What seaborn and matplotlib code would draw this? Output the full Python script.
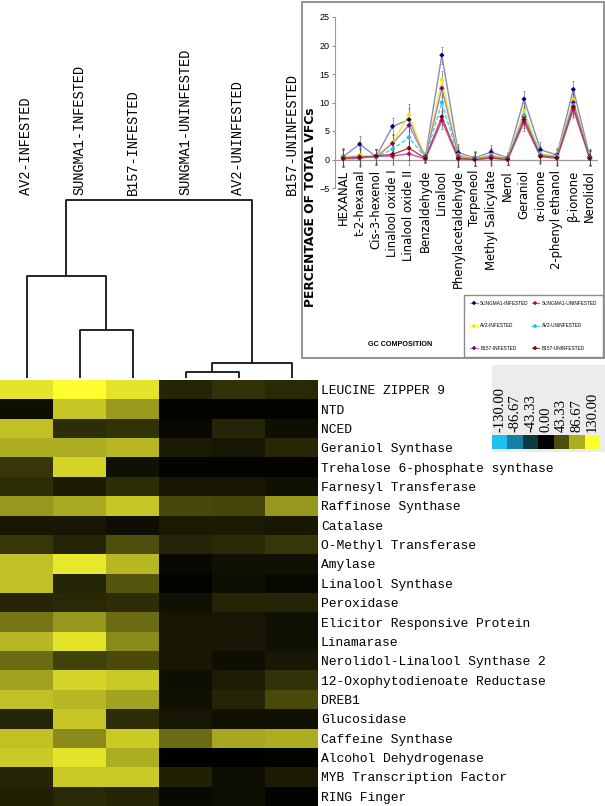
import numpy as np
import pandas as pd
import matplotlib
matplotlib.use('Agg')
import matplotlib.pyplot as plt
import seaborn as sns
from matplotlib.colors import LinearSegmentedColormap
from matplotlib.patches import Rectangle
from matplotlib.lines import Line2D
from matplotlib import font_manager

# ---- heatmap data (expression, -130..130) ----
samples = ['AV2-INFESTED', 'SUNGMA1-INFESTED', 'B157-INFESTED',
           'SUNGMA1-UNINFESTED', 'AV2-UNINFESTED', 'B157-UNINFESTED']
genes = ['LEUCINE ZIPPER 9', 'NTD', 'NCED', 'Geraniol Synthase',
         'Trehalose 6-phosphate synthase', 'Farnesyl Transferase',
         'Raffinose Synthase', 'Catalase', 'O-Methyl Transferase', 'Amylase',
         'Linalool Synthase', 'Peroxidase', 'Elicitor Responsive Protein',
         'Linamarase', 'Nerolidol-Linalool Synthase 2',
         '12-Oxophytodienoate Reductase', 'DREB1', 'Glucosidase',
         'Caffeine Synthase', 'Alcohol Dehydrogenase', 'MYB Transcription Factor',
         'RING Finger']
av2_inf = [115, 8, 97, 87, 30, 25, 77, 13, 30, 97, 97, 21, 61, 92, 56, 82, 97, 20, 97, 102, 20, 18]
sungma1_inf = [130, 100, 25, 87, 107, 15, 85, 13, 20, 117, 20, 23, 77, 115, 36, 107, 92, 100, 71, 115, 102, 23]
b157_inf = [115, 78, 28, 92, 10, 25, 100, 8, 43, 92, 46, 25, 56, 71, 41, 102, 82, 25, 102, 87, 102, 20]
sungma1_un = [20, 2, 5, 15, 2, 13, 40, 15, 20, 5, 2, 10, 13, 13, 13, 8, 10, 13, 56, 0, 18, 5]
av2_un = [28, 2, 20, 13, 2, 13, 38, 15, 23, 10, 8, 20, 13, 13, 8, 16, 20, 10, 84, 0, 8, 8]
b157_un = [23, 2, 8, 22, 2, 10, 77, 13, 30, 10, 5, 20, 10, 10, 13, 28, 41, 10, 87, 2, 15, 2]

# dendrogram: (left node, right node, height); nodes 0-5 are leaves, 6+ merges
links = [(1, 2, 48), (0, 6, 102), (3, 4, 6), (8, 5, 15), (7, 9, 178)]

scale_ticks = [-130.0, -86.67, -43.33, 0.0, 43.33, 86.67, 130.0]

# ---- inset: % of total VFCs ----
compounds = ['HEXANAL', 't-2-hexanal', 'Cis-3-hexenol', 'Linalool oxide I',
             'Linalool oxide II', 'Benzaldehyde', 'Linalool', 'Phenylacetaldehyde',
             'Terpeneol', 'Methyl Salicylate', 'Nerol', 'Geraniol', 'α-ionone',
             '2-phenyl ethanol', 'β-ionone', 'Nerolidol']
sungma1_inf_vfc = [0.5, 2.7, 0.5, 5.8, 7.0, 0.5, 18.3, 1.2, 0.3, 1.3, 0.3, 10.6, 1.7, 0.8, 12.3, 0.5]
av2_inf_vfc = [0.4, 0.8, 0.5, 3.0, 7.8, 0.3, 14.0, 0.8, 0.2, 0.8, 0.2, 8.5, 1.0, 0.6, 10.5, 0.3]
b157_inf_vfc = [0.3, 0.5, 0.4, 2.8, 6.0, 0.3, 12.5, 0.6, 0.1, 0.6, 0.1, 7.5, 0.8, 0.4, 10.0, 0.3]
sungma1_un_vfc = [0.1, 0.2, 0.6, 0.6, 1.0, 0.1, 6.8, 0.1, 0.0, 0.2, 0.0, 6.5, 0.5, 0.2, 8.8, 0.2]
av2_un_vfc = [0.3, 0.5, 0.4, 1.8, 3.9, 0.3, 10.0, 0.4, 0.1, 0.5, 0.1, 7.8, 0.9, 0.5, 9.5, 0.3]
b157_un_vfc = [0.2, 0.4, 0.6, 0.9, 2.0, 0.2, 7.5, 0.2, 0.0, 0.3, 0.0, 7.0, 0.6, 0.3, 9.2, 0.2]
vfc_err = [1.5, 1.5, 1.3, 1.5, 2.0, 0.8, 1.5, 1.5, 1.2, 1.3, 1.0, 1.5, 1.3, 1.3, 1.5, 1.3]

series_names = ['SUNGMA1-INFESTED', 'AV2-INFESTED', 'B157-INFESTED',
                'SUNGMA1-UNINFESTED', 'AV2-UNINFESTED', 'B157-UNINFESTED']
series_vals = [sungma1_inf_vfc, av2_inf_vfc, b157_inf_vfc,
               sungma1_un_vfc, av2_un_vfc, b157_un_vfc]
line_cols = ['#8a8ab8', '#f2f22a', '#a880c8', '#d84aa8', '#3fd8e0', '#b04848']
mark_cols = ['#000080', '#e8e800', '#800080', '#c0007a', '#20c0d0', '#800000']

names = {f.name for f in font_manager.fontManager.ttflist}
narrow = 'Liberation Sans Narrow' if 'Liberation Sans Narrow' in names else 'Liberation Sans'
mono = 'Liberation Mono'

W, H = 605, 806


def box(x0, y0, x1, y1):
    # pixel box (top-left origin) -> figure fraction rect
    return [x0 / W, 1 - y1 / H, (x1 - x0) / W, (y1 - y0) / H]


fig = plt.figure(figsize=(W / 100, H / 100), dpi=100)

cmap = LinearSegmentedColormap.from_list('bluyel', [
    (0.0, '#1ec0ee'), (1 / 6, '#167ea2'), (2 / 6, '#0b3a44'), (0.5, '#000000'),
    (4 / 6, '#4e4e0c'), (5 / 6, '#acac22'), (1.0, '#ffff30')])

# background boxes
fig.patches.append(Rectangle((302 / W, 1 - 358 / H), 302 / W, 356 / H,
                             transform=fig.transFigure, facecolor='white',
                             edgecolor='#8a8a8a', lw=1.3, zorder=-2))
fig.patches.append(Rectangle((492 / W, 1 - 452 / H), 113 / W, 87 / H,
                             transform=fig.transFigure, facecolor='#ececec',
                             edgecolor='none', zorder=-2))

# heatmap
heat = pd.DataFrame(dict(zip(samples, [av2_inf, sungma1_inf, b157_inf,
                                        sungma1_un, av2_un, b157_un])), index=genes)
ax_h = fig.add_axes(box(0, 380, 318, 806))
sns.heatmap(heat, ax=ax_h, cmap=cmap, vmin=-130, vmax=130, cbar=False,
            xticklabels=False, yticklabels=True)
ax_h.yaxis.tick_right()
ax_h.tick_params(axis='y', length=0, pad=2)
plt.setp(ax_h.get_yticklabels(), rotation=0, fontfamily=mono, fontsize=9.4, ha='left')
ax_h.set_xlabel('')
ax_h.set_ylabel('')

# dendrogram
ax_d = fig.add_axes(box(0, 0, 318, 380))
ax_d.patch.set_visible(False)
ax_d.set_xlim(0, 6)
ax_d.set_ylim(-2, 378)
ax_d.axis('off')
node_x = [i + 0.5 for i in range(len(samples))]
node_h = [0] * len(samples)
for a, b, h in links:
    ax_d.plot([node_x[a], node_x[a], node_x[b], node_x[b]],
              [node_h[a], h, h, node_h[b]], color='black', lw=1.2,
              solid_capstyle='butt')
    node_x.append((node_x[a] + node_x[b]) / 2)
    node_h.append(h)
for i, s in enumerate(samples):
    ax_d.text(i + 0.5, 183, s, rotation=90, ha='center', va='bottom',
              fontfamily=mono, fontsize=9.8)

# colour key
ax_c = fig.add_axes(box(492, 435, 600, 449))
sns.heatmap(pd.DataFrame([scale_ticks]), ax=ax_c, cmap=cmap, vmin=-130, vmax=130,
            cbar=False, xticklabels=False, yticklabels=False)
for i, v in enumerate(scale_ticks):
    ax_c.text(i + 0.5, -0.2, f'{v:.2f}', rotation=90, ha='center', va='bottom',
              fontfamily='Liberation Serif', fontsize=10.5)

# inset line chart
vfc = pd.DataFrame({
    'pos': np.tile(np.arange(len(compounds)), len(series_names)),
    'pct': np.concatenate(series_vals),
    'series': np.repeat(series_names, len(compounds)),
})
ax_i = fig.add_axes(box(335, 17, 598, 188))
ax_i.patch.set_visible(False)
ax_i.axhline(0, color='#9a9a9a', lw=0.9, zorder=1)
for vals in series_vals:
    ax_i.errorbar(range(len(compounds)), vals, yerr=vfc_err, fmt='none',
                  ecolor='#555555', elinewidth=0.4, capsize=1.0, capthick=0.4,
                  ls=':', zorder=2)
sns.lineplot(data=vfc, x='pos', y='pct', hue='series', hue_order=series_names,
             palette=dict(zip(series_names, line_cols)), style='series',
             dashes={n: ((3, 1.5) if n == 'AV2-UNINFESTED' else '') for n in series_names},
             lw=1.0, legend=False, ax=ax_i, zorder=3)
sns.scatterplot(data=vfc, x='pos', y='pct', hue='series', hue_order=series_names,
                palette=dict(zip(series_names, mark_cols)), marker='D', s=7,
                linewidth=0, legend=False, ax=ax_i, zorder=4)
ax_i.set_xlim(-0.5, 15.5)
ax_i.set_ylim(-5, 25)
ax_i.set_yticks(range(-5, 30, 5))
ax_i.set_xticks([])
ax_i.set_xlabel('')
ax_i.set_ylabel('')
for side in ['top', 'right', 'bottom']:
    ax_i.spines[side].set_visible(False)
ax_i.spines['left'].set_color('#9a9a9a')
ax_i.tick_params(axis='y', length=2, width=0.6, color='#777777', pad=2,
                 labelsize=6.5)
plt.setp(ax_i.get_yticklabels(), fontfamily=narrow)
for i, c in enumerate(compounds):
    ax_i.text(i, -1.8, c, rotation=90, ha='center', va='top', fontsize=8.4,
              fontfamily='DejaVu Sans')

handles = [Line2D([], [], color=lc, marker='+', markeredgecolor=mc, ms=3.5,
                  mew=1.1, lw=0.8) for lc, mc in zip(line_cols, mark_cols)]
ax_i.legend(handles, series_names, loc='lower right', ncol=2,
            bbox_to_anchor=(603 / W, 1 - 357 / H),
            bbox_transform=fig.transFigure, borderaxespad=0,
            prop={'family': narrow, 'size': 3.4}, labelspacing=3.7,
            handlelength=1.6, handletextpad=0.5, columnspacing=0.6,
            borderpad=1.3, frameon=True, fancybox=False, edgecolor='#8a8a8a',
            framealpha=1)

fig.text(310 / W, 1 - 207 / H, 'PERCENTAGE OF TOTAL VFCs', rotation=90,
         ha='center', va='center', fontsize=8.8, fontweight='bold',
         fontfamily='DejaVu Sans')
fig.text(400 / W, 1 - 345 / H, 'GC COMPOSITION', ha='center', va='center',
         fontsize=5.2, fontweight='bold', fontfamily=narrow)

plt.savefig('out.png', dpi=100)
plt.close()
